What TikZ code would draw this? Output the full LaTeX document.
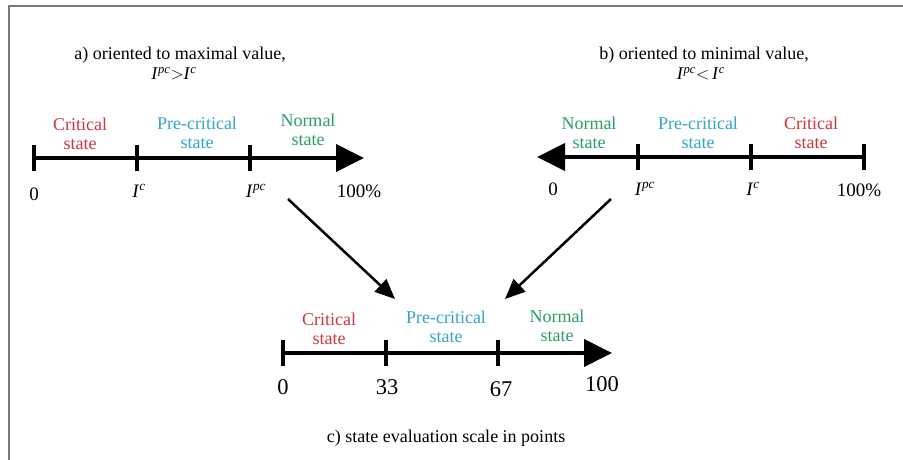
\documentclass[tikz,border=0pt]{standalone}
\usepackage{fontspec}
\setmainfont{Liberation Serif}
\usetikzlibrary{arrows.meta}
\definecolor{critred}{RGB}{205,55,60}
\definecolor{precyan}{RGB}{50,165,200}
\definecolor{normgreen}{RGB}{40,160,100}
\definecolor{framegray}{RGB}{120,120,120}
\newcommand{\Ival}[1]{\textit{I}\textsuperscript{\textit{#1}}}
\tikzset{
  axis/.style={line width=4pt},
  axisarrow/.style={axis, -{Triangle[length=28pt,width=27pt]}},
  tickmark/.style={line width=3.5pt},
  zone/.style={align=center, font=\fontsize{18}{19}\selectfont, inner sep=0pt},
  num/.style={anchor=base, font=\fontsize{19}{21}\selectfont, inner sep=0pt},
  bignum/.style={num, font=\fontsize{22.5}{24}\selectfont},
  title/.style={anchor=base, font=\fontsize{18}{20}\selectfont, inner sep=0pt},
  link/.style={line width=2.5pt, -{Triangle[length=20pt,width=17pt]}}
}
\begin{document}
\begin{tikzpicture}[x=1pt, y=-1pt]
  \useasboundingbox (0,0) rectangle (903,460);
  \fill[white] (0,0) rectangle (903,460);
  \draw[framegray, line width=2pt] (9,460) -- (9,6) -- (903,6);

  % a) oriented to maximal value
  \node[title] (a-title) at (180,60) {a) oriented to maximal value,};
  \node[title] (a-cond) at (174,80) {\Ival{pc}$>$\Ival{c}};
  \coordinate (a0) at (34,158);
  \coordinate (a1) at (137,158);
  \coordinate (a2) at (250,158);
  \coordinate (a3) at (364,158);
  \draw[axisarrow] (a0) -- (a3);
  \foreach \t in {a0,a1,a2}
    \draw[tickmark] (\t) ++(0,-13) -- ++(0,26);
  \node[zone, critred] (a-crit) at (80,133.5) {Critical\\state};
  \node[zone, precyan] (a-pre) at (197,132.5) {Pre-critical\\state};
  \node[zone, normgreen] (a-norm) at (308,130) {Normal\\state};
  \node[num] (a-n0) at (34,200) {0};
  \node[num] (a-nc) at (139,197) {\Ival{c}};
  \node[num] (a-npc) at (256,197) {\Ival{pc}};
  \node[num] (a-n100) at (359,197) {100\%};

  % b) oriented to minimal value
  \node[title] (b-title) at (704,60) {b) oriented to minimal value,};
  \node[title] (b-cond) at (701,80) {\Ival{pc}$<$\,\Ival{c}};
  \coordinate (b0) at (537,157);
  \coordinate (b1) at (638,157);
  \coordinate (b2) at (751,157);
  \coordinate (b3) at (864,157);
  \draw[axisarrow] (b3) -- (b0);
  \foreach \t in {b1,b2,b3}
    \draw[tickmark] (\t) ++(0,-13) -- ++(0,26);
  \node[zone, normgreen] (b-norm) at (589,132.5) {Normal\\state};
  \node[zone, precyan] (b-pre) at (698,132.5) {Pre-critical\\state};
  \node[zone, critred] (b-crit) at (811,132.5) {Critical\\state};
  \node[num] (b-n0) at (553,195) {0};
  \node[num] (b-npc) at (645,195) {\Ival{pc}};
  \node[num] (b-nc) at (753,195) {\Ival{c}};
  \node[num] (b-n100) at (859,196) {100\%};

  % c) state evaluation scale in points
  \coordinate (c0) at (283,353);
  \coordinate (c1) at (386,353);
  \coordinate (c2) at (498,353);
  \coordinate (c3) at (612,353);
  \draw[axisarrow] (c0) -- (c3);
  \foreach \t in {c0,c1,c2}
    \draw[tickmark] (\t) ++(0,-13) -- ++(0,26);
  \node[zone, critred] (c-crit) at (329,328.5) {Critical\\state};
  \node[zone, precyan] (c-pre) at (446,327) {Pre-critical\\state};
  \node[zone, normgreen] (c-norm) at (557,326) {Normal\\state};
  \node[bignum] (c-n0) at (283,394) {0};
  \node[bignum] (c-n33) at (387,394) {33};
  \node[bignum] (c-n67) at (501,396) {67};
  \node[bignum] (c-n100) at (602,391) {100};
  \node[title] (c-title) at (446,442) {c) state evaluation scale in points};

  % links to the common scale
  \coordinate (a-out) at (288,199);
  \coordinate (b-out) at (611,199);
  \coordinate (c-inA) at (395,299);
  \coordinate (c-inB) at (505,299);
  \draw[link] (a-out) -- (c-inA);
  \draw[link] (b-out) -- (c-inB);
\end{tikzpicture}
\end{document}
